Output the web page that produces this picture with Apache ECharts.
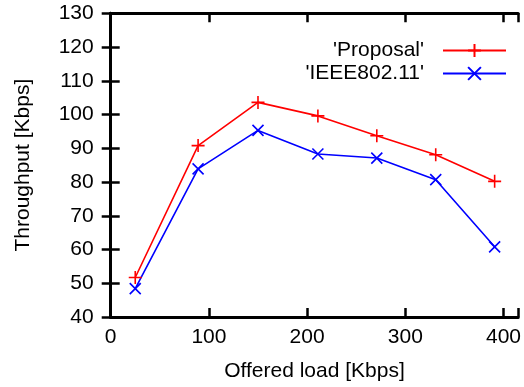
<!DOCTYPE html>
<html>
<head>
<meta charset="utf-8">
<script src="https://cdn.jsdelivr.net/npm/echarts@6/dist/echarts.min.js"></script>
<style>
html,body{margin:0;padding:0;background:#fff;}
#chart{width:524px;height:387px;}
</style>
</head>
<body>
<div id="chart"></div>
<script>
var offeredLoad = [25, 89, 150, 211, 271, 331, 391];
var proposal = [51.7, 90.8, 103.6, 99.6, 93.7, 88.1, 80.2];
var ieee80211 = [48.4, 83.9, 95.3, 88.3, 87.1, 80.7, 60.8];
var seriesNames = ["'Proposal'", "'IEEE802.11'"];
var xTicks = [0, 100, 200, 300, 400];
var yTicks = [40, 50, 60, 70, 80, 90, 100, 110, 120, 130];

function pairs(xs, ys) { return xs.map(function (x, i) { return [x, ys[i]]; }); }

var FONT = 'Liberation Sans';
var FS = 21;
var plusPath = 'path://M0,5L10,5M5,0L5,10';
var crossPath = 'path://M0,0L10,10M10,0L0,10';

var chart = echarts.init(document.getElementById('chart'), null, {renderer: 'canvas'});

var axisLine = {show: true, lineStyle: {color: '#000', width: 3}};
var tickIn = {show: true, inside: true, length: 9, lineStyle: {color: '#000', width: 2.5}};

chart.setOption({
  animation: false,
  backgroundColor: '#fff',
  textStyle: {fontFamily: FONT},
  grid: {left: 110.7, right: 2.3, top: 13.3, bottom: 69.3, containLabel: false},
  legend: {
    orient: 'vertical',
    right: 12,
    top: 35,
    align: 'right',
    itemWidth: 63,
    itemHeight: 16,
    itemGap: 2,
    data: seriesNames,
    textStyle: {fontFamily: FONT, fontSize: FS, color: '#000', padding: [0, 14, 0, 0]}
  },
  xAxis: [{
    type: 'value',
    min: 0, max: 415, interval: 100,
    name: 'Offered load [Kbps]',
    nameLocation: 'middle',
    nameGap: 44,
    nameTextStyle: {fontFamily: FONT, fontSize: FS, color: '#000'},
    axisLine: axisLine,
    axisTick: tickIn,
    splitLine: {show: false},
    axisLabel: {
      fontFamily: FONT, fontSize: FS, color: '#000', margin: 10,
      formatter: function (v) { return xTicks.indexOf(v) >= 0 ? String(v) : ''; }
    }
  }, {
    type: 'value', position: 'top',
    min: 0, max: 415, interval: 100,
    axisLine: axisLine,
    axisTick: tickIn,
    splitLine: {show: false},
    axisLabel: {show: false}
  }],
  yAxis: [{
    type: 'value',
    min: 40, max: 130, interval: 10,
    name: 'Throughput [Kbps]',
    nameLocation: 'middle',
    nameGap: 77,
    nameTextStyle: {fontFamily: FONT, fontSize: FS, color: '#000'},
    axisLine: axisLine,
    axisTick: tickIn,
    splitLine: {show: false},
    axisLabel: {
      fontFamily: FONT, fontSize: FS, color: '#000', margin: 17,
      formatter: function (v) { return yTicks.indexOf(v) >= 0 ? String(v) : ''; }
    }
  }, {
    type: 'value', position: 'right',
    min: 40, max: 130, interval: 10,
    axisLine: axisLine,
    axisTick: tickIn,
    splitLine: {show: false},
    axisLabel: {show: false}
  }],
  series: [{
    name: seriesNames[0],
    type: 'line',
    data: pairs(offeredLoad, proposal),
    symbol: plusPath,
    symbolSize: 13,
    lineStyle: {color: '#ff0000', width: 1.6},
    itemStyle: {color: '#ff0000', borderColor: '#ff0000', borderWidth: 1.6}
  }, {
    name: seriesNames[1],
    type: 'line',
    data: pairs(offeredLoad, ieee80211),
    symbol: crossPath,
    symbolSize: 11,
    lineStyle: {color: '#0000ff', width: 1.6},
    itemStyle: {color: '#0000ff', borderColor: '#0000ff', borderWidth: 1.6}
  }]
});
</script>
</body>
</html>
